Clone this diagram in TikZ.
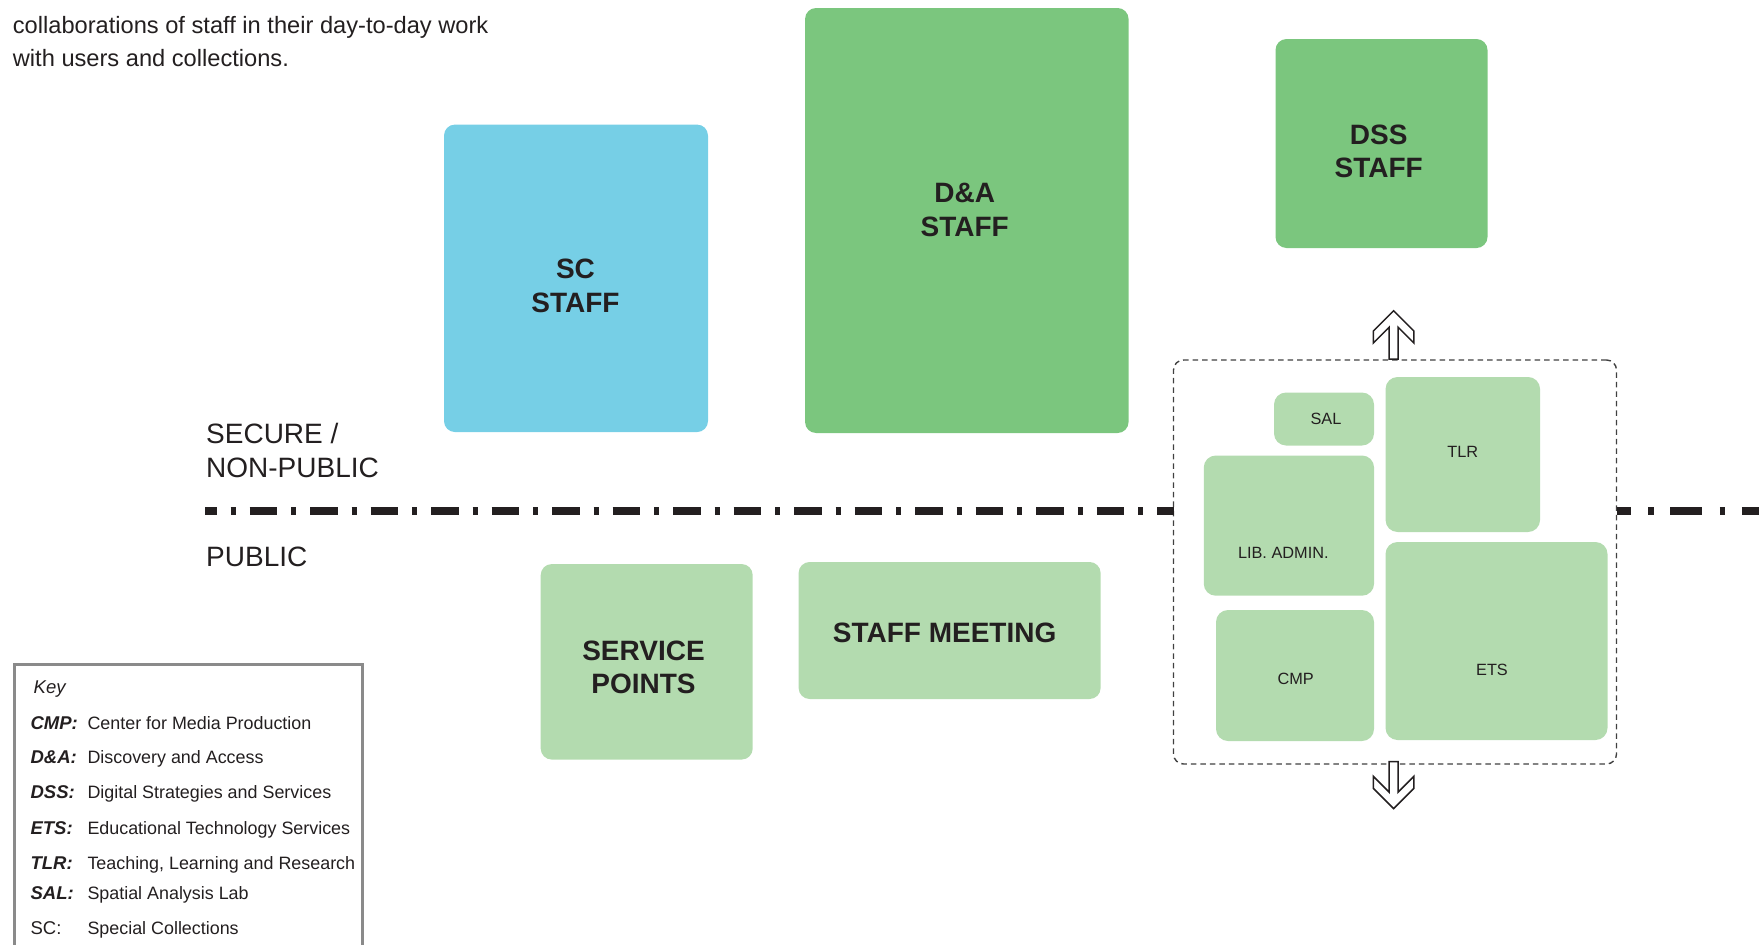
\documentclass[tikz,border=0pt]{standalone}
\usepackage{fontspec}
\setmainfont{Liberation Sans}
\usetikzlibrary{calc}
\definecolor{ink}{HTML}{231F20}
\definecolor{scblue}{HTML}{76CFE6}
\definecolor{dagreen}{HTML}{7BC67E}
\definecolor{lightgreen}{HTML}{B3DBAF}
\definecolor{keygray}{HTML}{8A8A8A}
\definecolor{dashgray}{HTML}{404040}
\begin{document}
\begin{tikzpicture}[x=1pt,y=-1pt,
  bigbox/.style={rectangle, rounded corners=11pt, inner sep=0pt, outer sep=0pt},
  smallbox/.style={rectangle, rounded corners=12pt, inner sep=0pt, outer sep=0pt, fill=lightgreen},
  biglabel/.style={font=\fontsize{28}{33.7}\selectfont\bfseries, align=center, text=ink, inner sep=0pt},
  smalllabel/.style={font=\fontsize{16.3}{19}\selectfont, text=ink, inner sep=0pt},
  zonelabel/.style={font=\fontsize{28}{34}\selectfont, text=ink, inner sep=0pt, anchor=base west},
  introtext/.style={font=\fontsize{23.65}{33.4}\selectfont, text=ink, inner sep=0pt, anchor=base west},
  keyabbr/.style={font=\fontsize{18.5}{22}\selectfont\bfseries\itshape, text=ink, inner sep=0pt, anchor=base west},
  keyplain/.style={font=\fontsize{18.5}{22}\selectfont, text=ink, inner sep=0pt, anchor=base west},
  keydesc/.style={font=\fontsize{17.9}{22}\selectfont, text=ink, inner sep=0pt, anchor=base west},
  divider/.style={draw=ink, line width=7.3pt},
  clusterbox/.style={rectangle, draw=dashgray, line width=1.4pt, dash pattern=on 5.5pt off 4pt, rounded corners=10pt, inner sep=0pt, outer sep=0pt},
  blockarrow/.style={draw=ink, fill=white, line width=1.5pt, line join=miter}
]
\useasboundingbox (0,0) rectangle (1759,945);

% intro text
\node[introtext] (intro1) at (12.7,33.3) {collaborations of staff in their day-to-day work};
\node[introtext] (intro2) at (12.7,66.7) {with users and collections.};

% big boxes
\node[bigbox, fill=scblue, minimum width=264pt, minimum height=307.5pt] (sc) at (576,278.3) {};
\node[biglabel] (sclabel) at (575.5,286) {SC\\STAFF};

\node[bigbox, fill=dagreen, minimum width=323.5pt, minimum height=425pt] (da) at (966.8,220.5) {};
\node[biglabel] (dalabel) at (964.7,209.8) {D\&A\\STAFF};

\node[bigbox, fill=dagreen, minimum width=212pt, minimum height=209pt] (dss) at (1381.5,143.5) {};
\node[biglabel] (dsslabel) at (1378.7,151.4) {DSS\\STAFF};

\node[bigbox, fill=lightgreen, minimum width=212pt, minimum height=195.5pt] (sp) at (646.7,661.8) {};
\node[biglabel] (splabel) at (643.5,667.5) {SERVICE\\POINTS};

\node[bigbox, fill=lightgreen, minimum width=302pt, minimum height=137pt] (sm) at (949.6,630.5) {};
\node[biglabel] (smlabel) at (944.6,632.7) {STAFF MEETING};

% zone labels
\node[zonelabel] (secure1) at (206,443.3) {SECURE /};
\node[zonelabel] (secure2) at (206,477.3) {NON-PUBLIC};
\node[zonelabel] (public) at (206,566.7) {PUBLIC};

% cluster
\node[clusterbox, minimum width=443pt, minimum height=404pt] (cluster) at (1395,562) {};

\node[smallbox, minimum width=100pt, minimum height=53pt] (sal) at (1324,419) {};
\node[smalllabel] (sallabel) at (1326,418.6) {SAL};
\node[smallbox, minimum width=154.5pt, minimum height=155pt] (tlr) at (1462.8,454.5) {};
\node[smalllabel] (tlrlabel) at (1462.8,452) {TLR};
\node[smallbox, minimum width=170.3pt, minimum height=140.2pt] (lib) at (1288.9,525.6) {};
\node[smalllabel] (liblabel) at (1283.3,553) {LIB. ADMIN.};
\node[smallbox, minimum width=158pt, minimum height=131pt] (cmp) at (1295,675.5) {};
\node[smalllabel] (cmplabel) at (1295.7,678.5) {CMP};
\node[smallbox, minimum width=222pt, minimum height=198pt] (ets) at (1496.5,641) {};
\node[smalllabel] (etslabel) at (1492,669.7) {ETS};

% divider line
\coordinate (divL) at (205,511);
\coordinate (divR) at (1759,511);
\draw[divider, dash pattern=on 27.5pt off 14pt on 5pt off 14pt, dash phase=15.8pt] (divL) -- (divL -| cluster.west);
\draw[divider, dash pattern=on 32pt off 17.5pt on 5.5pt off 16.5pt, dash phase=17.6pt] (divR -| cluster.east) -- (divR);

% block arrows
\draw[blockarrow] (1393.6,310.7) -- (1413.9,331) -- (1413.9,343) -- (1398,327.1) -- (1398,359) -- (1389.2,359) -- (1389.2,327.1) -- (1373.3,343) -- (1373.3,331) -- cycle;
\draw[blockarrow] (1393.6,808.6) -- (1413.9,788.3) -- (1413.9,776.3) -- (1398,792.2) -- (1398,761.7) -- (1389.2,761.7) -- (1389.2,792.2) -- (1373.3,776.3) -- (1373.3,788.3) -- cycle;

% key
\draw[draw=keygray, line width=3pt] (14.7,950) -- (14.7,664.7) -- (362.5,664.7) -- (362.5,950);
\node[font=\fontsize{18.5}{22}\selectfont\itshape, text=ink, inner sep=0pt, anchor=base west] (keytitle) at (33.5,693.5) {Key};

\node[keyabbr] (k1a) at (30.4,729) {CMP:};
\node[keydesc] (k1d) at (87.3,729) {Center for Media Production};
\node[keyabbr] (k2a) at (30.4,763.5) {D\&A:};
\node[keydesc] (k2d) at (87.3,763.5) {Discovery and Access};
\node[keyabbr] (k3a) at (30.4,798.5) {DSS:};
\node[keydesc] (k3d) at (87.3,798.5) {Digital Strategies and Services};
\node[keyabbr] (k4a) at (30.4,834.4) {ETS:};
\node[keydesc] (k4d) at (87.3,834.4) {Educational Technology Services};
\node[keyabbr] (k5a) at (30.4,869.2) {TLR:};
\node[keydesc] (k5d) at (87.3,869.2) {Teaching, Learning and Research};
\node[keyabbr] (k6a) at (30.4,899.5) {SAL:};
\node[keydesc] (k6d) at (87.3,899.5) {Spatial Analysis Lab};
\node[keyplain] (k7a) at (30.4,934.2) {SC:};
\node[keydesc] (k7d) at (87.3,934.2) {Special Collections};
\end{tikzpicture}
\end{document}
